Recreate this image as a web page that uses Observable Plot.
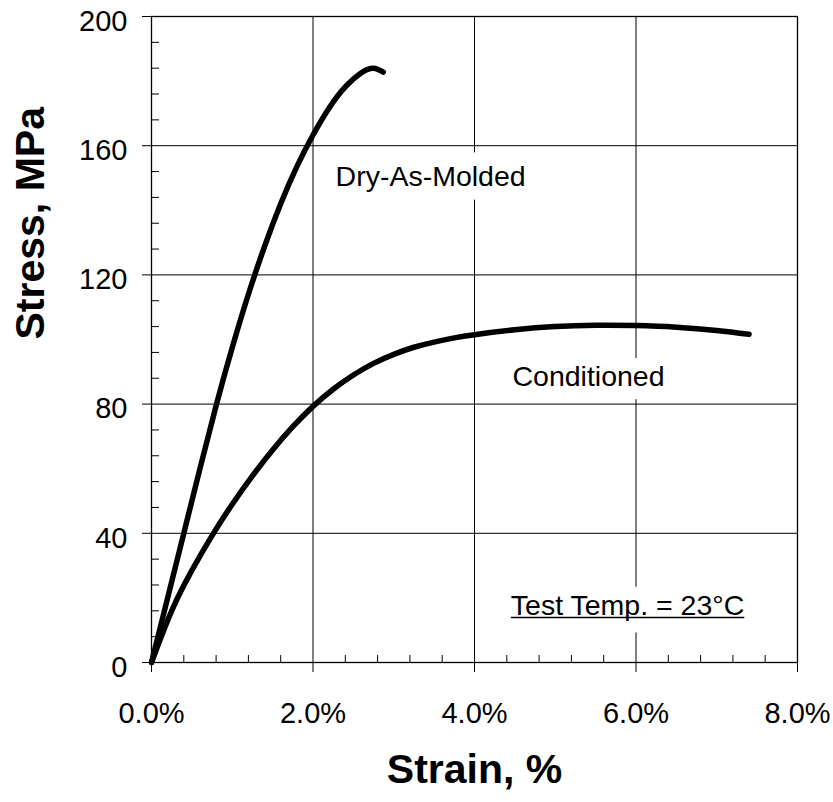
<!DOCTYPE html>
<html><head><meta charset="utf-8">
<script src="https://cdn.jsdelivr.net/npm/d3@7"></script>
<script src="https://cdn.jsdelivr.net/npm/@observablehq/plot@0.6"></script>
<style>html,body{margin:0;padding:0;background:#fff} svg{display:block}</style>
</head><body><div id="chart"></div>
<script>
// Dry-As-Molded curve (strain %, stress MPa)
const dryStrain = [0, 0.2, 0.4, 0.6, 0.8, 1.0, 1.2, 1.4, 1.6, 1.8, 2.0, 2.2, 2.4, 2.6, 2.75, 2.87];
const dryStress = [0, 20, 40, 60, 79.5, 97.5, 114, 128.8, 142, 153.5, 163.3, 171.7, 178.2, 182.6, 184, 182.8];
// Conditioned curve
const condStrain = [0, 0.25, 0.5, 0.75, 1.0, 1.25, 1.5, 1.75, 2.0, 2.25, 2.5, 2.75, 3.0, 3.25, 3.5, 3.75, 4.0, 4.5, 5.0, 5.5, 6.0, 6.5, 7.0, 7.4];
const condStress = [0, 16, 28.5, 39.3, 49, 57.8, 65.8, 73, 79.3, 84.6, 89.0, 92.6, 95.4, 97.6, 99.2, 100.5, 101.5, 103.0, 104.0, 104.4, 104.3, 103.8, 102.8, 101.6];

// Axes
const xTicks = [0, 2, 4, 6, 8];
const yTicks = [0, 40, 80, 120, 160, 200];
const xMinor = [0.4, 0.8, 1.2, 1.6, 2.4, 2.8, 3.2, 3.6, 4.4, 4.8, 5.2, 5.6, 6.4, 6.8, 7.2, 7.6];
const yMinor = [8, 16, 24, 32, 48, 56, 64, 72, 88, 96, 104, 112, 128, 136, 144, 152, 168, 176, 184, 192];
const xTitle = "Strain, %";
const yTitle = "Stress, MPa";

// In-plot annotations (data coordinates)
const labelTexts = ["Dry-As-Molded", "Conditioned", "Test Temp. = 23°C"];
const labelX = [2.28, 4.47, 4.45];
const labelY = [150.2, 88.3, 17.5];
const underlined = "Test Temp. = 23°C";

const dry = dryStrain.map((s, i) => ({strain: s, stress: dryStress[i]}));
const cond = condStrain.map((s, i) => ({strain: s, stress: condStress[i]}));

const font = "'Liberation Sans', Arial, Helvetica, sans-serif";

const chart = Plot.plot({
  width: 833,
  height: 802,
  marginLeft: 151,
  marginRight: 36,
  marginTop: 16,
  marginBottom: 140,
  style: {fontFamily: font, background: "#fff", color: "#000"},
  x: {domain: [0, 8]},
  y: {domain: [0, 200]},
  marks: [
    Plot.gridX(xTicks, {stroke: "#000", strokeOpacity: 1, strokeWidth: 1}),
    Plot.gridY(yTicks, {stroke: "#000", strokeOpacity: 1, strokeWidth: 1}),
    Plot.text(labelTexts, {
      x: labelX, y: labelY, text: d => d, textAnchor: "start",
      fontSize: 28.5, fill: "#000", stroke: "#fff", strokeWidth: 27,
      strokeLinejoin: "round", fontFamily: font
    }),
    Plot.line(dry, {x: "strain", y: "stress", stroke: "#000", strokeWidth: 5.5, curve: "natural", strokeLinecap: "round"}),
    Plot.line(cond, {x: "strain", y: "stress", stroke: "#000", strokeWidth: 5.5, curve: "natural", strokeLinecap: "round"}),
    // minor ticks (inward)
    Plot.axisX({ticks: xMinor, tickSize: -7, tickFormat: () => "", label: null, stroke: "#000", strokeWidth: 1}),
    Plot.axisY({ticks: yMinor, tickSize: -8, tickFormat: () => "", label: null, stroke: "#000", strokeWidth: 1}),
    // major ticks (outward)
    Plot.axisX({ticks: xTicks, tickSize: 10, tickFormat: () => "", label: null, stroke: "#000", strokeWidth: 1}),
    Plot.axisY({ticks: yTicks, tickSize: 9, tickFormat: () => "", label: null, stroke: "#000", strokeWidth: 1}),
    // tick labels
    Plot.axisX({ticks: xTicks, tickSize: 0, tickPadding: 40, tickFormat: d => d.toFixed(1) + "%", label: null, fontSize: 29, fill: "#000"}),
    Plot.axisY({ticks: yTicks, tickSize: 0, tickPadding: 24, dy: 5, label: null, fontSize: 29, fill: "#000"}),
    Plot.frame({stroke: "#000", strokeWidth: 1.3}),
    // axis titles
    Plot.text([xTitle], {frameAnchor: "bottom", dy: 120, text: d => d, fontSize: 41, fontWeight: "bold", fill: "#000", fontFamily: font}),
    Plot.text([yTitle], {frameAnchor: "left", dx: -121, rotate: -90, text: d => d, fontSize: 41, fontWeight: "bold", fill: "#000", fontFamily: font})
  ]
});

document.getElementById("chart").appendChild(chart);

// Underline the test-temperature note (drawn after its white halo so it stays visible)
d3.select(chart).selectAll("text")
  .filter(function() { return this.textContent === underlined; })
  .each(function() {
    const bb = this.getBBox();
    const fs = 28.5;
    const baseline = bb.y + bb.height - 0.212 * fs;
    const ln = document.createElementNS("http://www.w3.org/2000/svg", "line");
    ln.setAttribute("x1", bb.x);
    ln.setAttribute("x2", bb.x + bb.width);
    ln.setAttribute("y1", baseline + 2.5);
    ln.setAttribute("y2", baseline + 2.5);
    ln.setAttribute("stroke", "#000");
    ln.setAttribute("stroke-width", "1.6");
    const tr = this.getAttribute("transform");
    if (tr) ln.setAttribute("transform", tr);
    this.parentNode.appendChild(ln);
  });
</script>
</body></html>
